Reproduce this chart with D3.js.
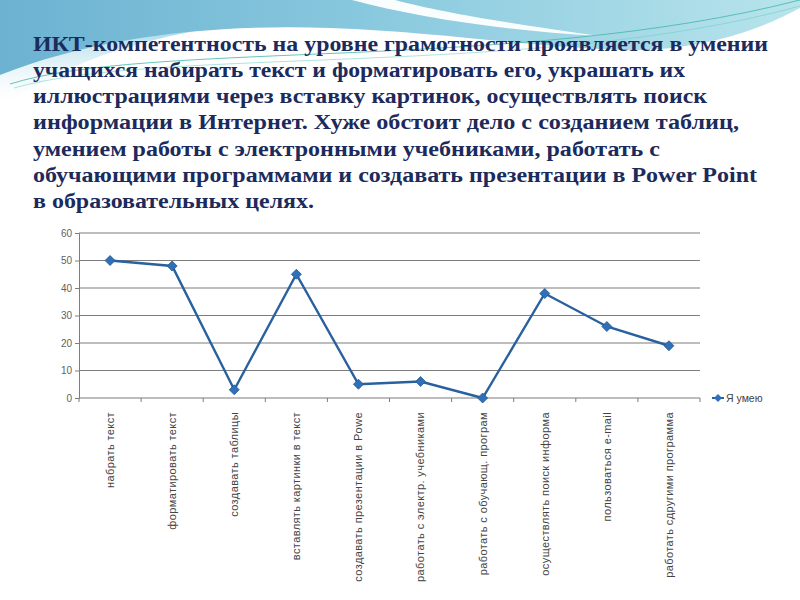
<!DOCTYPE html>
<html><head><meta charset="utf-8">
<script src="https://cdn.jsdelivr.net/npm/d3@7"></script>
<style>body{margin:0;background:#fff;}svg{display:block;}</style>
</head><body>
<script>
const titleLines = [
  "ИКТ-компетентность на уровне грамотности проявляется в умении",
  "учащихся набирать текст и форматировать его, украшать их",
  "иллюстрациями через вставку картинок, осуществлять поиск",
  "информации в Интернет. Хуже обстоит дело с созданием таблиц,",
  "умением работы с электронными учебниками, работать с",
  "обучающими программами и создавать презентации в Power Point",
  "в образовательных целях."
];
const titleLineEnds = [768, 685, 707, 739, 660, 757, 314];
const categories = [
  "набрать текст",
  "форматировать текст",
  "создавать таблицы",
  "вставлять картинки в текст",
  "создавать презентации в Powe",
  "работать с электр. учебниками",
  "работать с обучающ. програм",
  "осуществлять поиск информа",
  "пользоваться e-mail",
  "работать сдругими программа"
];
const values = [50, 48, 3, 45, 5, 6, 0, 38, 26, 19];
const yTicks = [0, 10, 20, 30, 40, 50, 60];
const seriesName = "Я умею";

const W = 800, H = 600;
const svg = d3.select("body").append("svg").attr("width", W).attr("height", H);
const defs = svg.append("defs");

// background decoration
const g1 = defs.append("linearGradient").attr("id", "bg1").attr("x1", 0).attr("y1", 0).attr("x2", 1).attr("y2", 0);
g1.append("stop").attr("offset", "0%").attr("stop-color", "#6cb2d1");
g1.append("stop").attr("offset", "45%").attr("stop-color", "#88c8de");
g1.append("stop").attr("offset", "100%").attr("stop-color", "#b8e4ec");
const g2 = defs.append("linearGradient").attr("id", "bg2").attr("x1", 0).attr("y1", 0).attr("x2", 0).attr("y2", 1);
g2.append("stop").attr("offset", "0%").attr("stop-color", "#9fd6e6").attr("stop-opacity", 0.9);
g2.append("stop").attr("offset", "100%").attr("stop-color", "#ffffff").attr("stop-opacity", 0);

svg.append("rect").attr("width", W).attr("height", H).attr("fill", "#ffffff");
svg.append("path")
  .attr("d", "M0,72 C40,50 100,36 200,30 C120,45 50,70 0,110 Z")
  .attr("fill", "url(#bg2)");
svg.append("path")
  .attr("d", "M0,0 L800,0 L800,8 C760,30 700,52 620,50 C520,46 440,32 330,28 C220,24 100,35 0,75 Z")
  .attr("fill", "url(#bg1)");
svg.append("path")
  .attr("d", "M352,0 L395,0 C440,12 500,22 600,36 C500,30 420,18 352,0 Z")
  .attr("fill", "#ffffff").attr("opacity", 0.95);
svg.append("path")
  .attr("d", "M10,84 C150,40 520,72 800,0")
  .attr("fill", "none").attr("stroke", "#3fb8a6").attr("stroke-width", 1).attr("opacity", 0.8);
svg.append("path")
  .attr("d", "M14,88 C160,46 540,78 800,6")
  .attr("fill", "none").attr("stroke", "#6ccfc0").attr("stroke-width", 0.8).attr("opacity", 0.7);

// title text
const titleBaselines = [51, 77, 103, 129, 155.5, 182, 208];
svg.append("g").selectAll("text").data(titleLines).join("text")
  .attr("x", 33)
  .attr("y", (d, i) => titleBaselines[i])
  .attr("textLength", (d, i) => titleLineEnds[i] - 33)
  .attr("lengthAdjust", "spacingAndGlyphs")
  .attr("font-family", "'Liberation Serif', serif")
  .attr("font-weight", "bold")
  .attr("font-size", 20)
  .attr("fill", "#1c2a5c")
  .text(d => d);

// chart
const x = d3.scaleBand().domain(categories).range([79, 700]);
const y = d3.scaleLinear().domain([0, 60]).range([398, 233]);
const gridColor = "#7d7d7d";

const chart = svg.append("g");
chart.append("g").selectAll("line").data(yTicks.filter(t => t > 0)).join("line")
  .attr("x1", 79).attr("x2", 700)
  .attr("y1", d => y(d)).attr("y2", d => y(d))
  .attr("stroke", gridColor).attr("stroke-width", 1.2);

const yAxis = chart.append("g").attr("transform", "translate(79,0)")
  .call(d3.axisLeft(y).tickValues(yTicks).tickSize(4).tickPadding(3));
yAxis.select(".domain").attr("stroke", gridColor);
yAxis.selectAll(".tick line").attr("stroke", gridColor);
yAxis.selectAll(".tick text").attr("font-family", "'Liberation Sans', Arial, sans-serif")
  .attr("font-size", 10).attr("fill", "#5f5f5f");

// x axis
chart.append("line").attr("x1", 79).attr("x2", 700).attr("y1", y(0)).attr("y2", y(0))
  .attr("stroke", gridColor).attr("stroke-width", 1.2);
const bounds = categories.map(c => x(c)).concat([x(categories[categories.length - 1]) + x.bandwidth()]);
chart.append("g").selectAll("line").data(bounds).join("line")
  .attr("x1", d => d).attr("x2", d => d)
  .attr("y1", y(0)).attr("y2", y(0) + 4)
  .attr("stroke", gridColor);

chart.append("g").selectAll("text").data(categories).join("text")
  .attr("transform", d => `translate(${x(d) + x.bandwidth() / 2},412) rotate(-90)`)
  .attr("text-anchor", "end")
  .attr("dy", "0.35em")
  .attr("font-family", "'Liberation Sans', Arial, sans-serif")
  .attr("font-size", 11)
  .attr("letter-spacing", 0.4)
  .attr("fill", "#444")
  .text(d => d);

// series line
const lineColor = "#29609e";
const line = d3.line().x((d, i) => x(categories[i]) + x.bandwidth() / 2).y(d => y(d));
chart.append("path").datum(values).attr("d", line)
  .attr("fill", "none").attr("stroke", lineColor).attr("stroke-width", 2.4);
const diamond = "M0,-5 L5,0 L0,5 L-5,0 Z";
chart.append("g").selectAll("path").data(values).join("path")
  .attr("transform", (d, i) => `translate(${x(categories[i]) + x.bandwidth() / 2},${y(d)})`)
  .attr("d", diamond)
  .attr("fill", "#2f70b8").attr("stroke", "#24588f").attr("stroke-width", 0.8);

// legend
const lg = svg.append("g").attr("transform", "translate(712,398)");
lg.append("line").attr("x1", 0).attr("x2", 12).attr("stroke", lineColor).attr("stroke-width", 2);
lg.append("path").attr("transform", "translate(6,0)").attr("d", "M0,-4 L4,0 L0,4 L-4,0 Z").attr("fill", "#2f70b8");
lg.append("text").attr("x", 14).attr("dy", "0.35em")
  .attr("font-family", "'Liberation Sans', Arial, sans-serif")
  .attr("font-size", 10.5).attr("fill", "#444").text(seriesName);
</script>
</body></html>
